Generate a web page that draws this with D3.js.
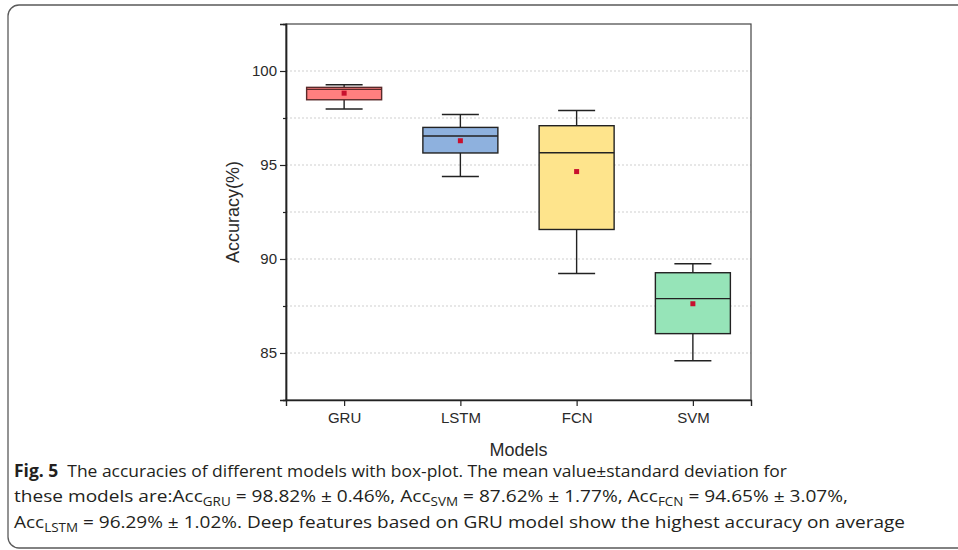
<!DOCTYPE html>
<html><head><meta charset="utf-8">
<script src="https://cdn.jsdelivr.net/npm/d3@7"></script>
<style>body{margin:0;background:#fff}svg{display:block}</style>
</head><body>
<svg id="c" width="958" height="550"></svg>
<script>
const models = ["GRU","LSTM","FCN","SVM"];
const whiskerLow  = [97.98, 94.39, 89.23, 84.59];
const q1          = [98.47, 95.64, 91.57, 86.03];
const median      = [99.02, 96.54, 95.65, 87.89];
const q3          = [99.13, 97.00, 97.09, 89.27];
const whiskerHigh = [99.27, 97.69, 97.90, 89.75];
const means       = [98.82, 96.29, 94.65, 87.62];
const fills       = ["#ff7f7f", "#8eb1de", "#fee48c", "#96e4b8"];
const majorTicks  = [85, 90, 95, 100];
const minorTicks  = [87.5, 92.5, 97.5];

const svg = d3.select("#c");
// outer rounded frame
svg.append("rect").attr("x",8).attr("y",5).attr("width",1100).attr("height",543)
  .attr("rx",11).attr("fill","none").attr("stroke","#5a5a5a").attr("stroke-width",1.3);

const L=286, R=751, T=24, B=400;
const y = d3.scaleLinear().domain([82.5,102.5]).range([B,T]);
const x = d3.scalePoint().domain(models).range([L,R]).padding(0.5);

// grid
svg.append("g").selectAll("line").data(majorTicks.concat(minorTicks)).join("line")
  .attr("x1",L).attr("x2",R).attr("y1",d=>y(d)).attr("y2",d=>y(d))
  .attr("stroke","#cfcfcf").attr("stroke-width",1).attr("stroke-dasharray","2,2");

// frame
svg.append("rect").attr("x",L).attr("y",T).attr("width",R-L).attr("height",B-T)
  .attr("fill","none").attr("stroke","#444").attr("stroke-width",1.2);

// axes
svg.append("g").attr("transform",`translate(${L},0)`)
  .call(d3.axisLeft(y).tickValues(majorTicks).tickSize(6).tickPadding(3).tickFormat(d3.format("d")));
svg.append("g").attr("transform",`translate(${L},0)`)
  .call(d3.axisLeft(y).tickValues(minorTicks).tickSize(3).tickFormat(""));
svg.append("g").attr("transform",`translate(0,${B})`)
  .call(d3.axisBottom(x).tickSize(6).tickPadding(6));
svg.selectAll(".domain").attr("stroke","#222").attr("stroke-width",1.4);
svg.selectAll(".tick line").attr("stroke","#222").attr("stroke-width",1.2);
svg.selectAll(".tick text").attr("font-family","Liberation Sans, Arial, sans-serif")
  .attr("font-size",15).attr("fill","#2a2a2a");

// boxes
const bw = 75, cw = 37;
const g = svg.append("g");
models.forEach((m,i)=>{
  const cx = x(m);
  const sc = i===0?"#5a2a2a":"#222";
  g.append("line").attr("x1",cx).attr("x2",cx).attr("y1",y(whiskerHigh[i])).attr("y2",y(q3[i])).attr("stroke","#222").attr("stroke-width",1.4);
  g.append("line").attr("x1",cx).attr("x2",cx).attr("y1",y(q1[i])).attr("y2",y(whiskerLow[i])).attr("stroke","#222").attr("stroke-width",1.4);
  g.append("line").attr("x1",cx-cw/2).attr("x2",cx+cw/2).attr("y1",y(whiskerHigh[i])).attr("y2",y(whiskerHigh[i])).attr("stroke","#222").attr("stroke-width",1.4);
  g.append("line").attr("x1",cx-cw/2).attr("x2",cx+cw/2).attr("y1",y(whiskerLow[i])).attr("y2",y(whiskerLow[i])).attr("stroke","#222").attr("stroke-width",1.4);
  g.append("rect").attr("x",cx-bw/2).attr("width",bw).attr("y",y(q3[i])).attr("height",y(q1[i])-y(q3[i]))
    .attr("fill",fills[i]).attr("stroke",sc).attr("stroke-width",1.4);
  g.append("line").attr("x1",cx-bw/2).attr("x2",cx+bw/2).attr("y1",y(median[i])).attr("y2",y(median[i])).attr("stroke",sc).attr("stroke-width",1.4);
  g.append("rect").attr("x",cx-2.5).attr("y",y(means[i])-2.5).attr("width",5).attr("height",5).attr("fill","#c8102e");
});

// axis titles
svg.append("text").attr("transform",`translate(239,${(T+B)/2}) rotate(-90)`).attr("text-anchor","middle")
  .attr("font-family","Liberation Sans, Arial, sans-serif").attr("font-size",18).attr("fill","#2a2a2a").text("Accuracy(%)");
svg.append("text").attr("x",(L+R)/2).attr("y",456).attr("text-anchor","middle")
  .attr("font-family","Liberation Sans, Arial, sans-serif").attr("font-size",18).attr("fill","#2a2a2a").text("Models");

// caption
const capFont = "Open Sans, Noto Sans, sans-serif";
const lines = [
  {y:477, len:773, parts:[{t:"Fig. 5",b:true},{t:"  The accuracies of different models with box-plot. The mean value\u00b1standard deviation for"}]},
  {y:502, len:834, parts:[{t:"these models are:Acc"},{t:"GRU",s:true},{t:" = 98.82% \u00b1 0.46%, Acc"},{t:"SVM",s:true},{t:" = 87.62% \u00b1 1.77%, Acc"},{t:"FCN",s:true},{t:" = 94.65% \u00b1 3.07%,"}]},
  {y:528, len:891, parts:[{t:"Acc"},{t:"LSTM",s:true},{t:" = 96.29% \u00b1 1.02%. Deep features based on GRU model show the highest accuracy on average"}]}
];
lines.forEach(l=>{
  const t = svg.append("text").attr("x",14).attr("y",l.y).attr("font-family",capFont).attr("font-size",17)
    .attr("fill","#231f20").attr("textLength",l.len).attr("lengthAdjust","spacingAndGlyphs").style("white-space","pre");
  let prevSub = false;
  l.parts.forEach(p=>{
    const s = t.append("tspan").text(p.t);
    if(p.b) s.attr("font-weight","bold");
    if(p.s){ s.attr("font-size",12).attr("dy",4); prevSub = true; }
    else { s.attr("dy", prevSub ? -4 : 0); prevSub = false; }
  });
});
</script>
</body></html>
